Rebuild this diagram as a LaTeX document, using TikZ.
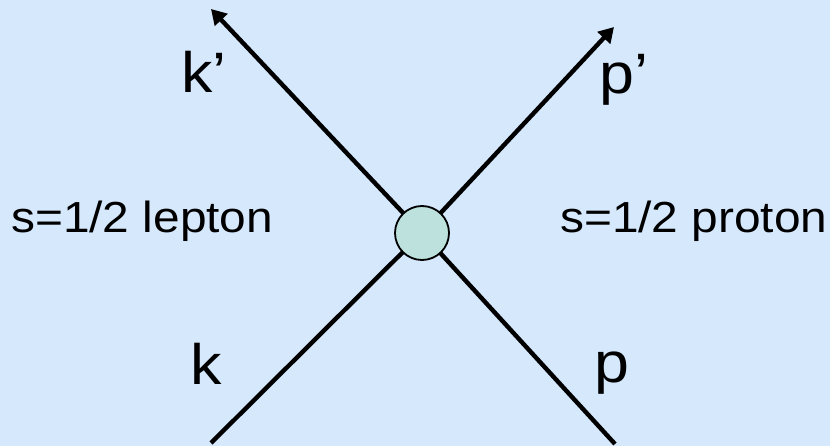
\documentclass[tikz,border=0pt]{standalone}
\usepackage{fontspec}
\setmainfont{Liberation Sans}
\usetikzlibrary{arrows.meta}
\definecolor{bgblue}{RGB}{214,232,252}
\definecolor{blobfill}{RGB}{189,226,222}
\newcommand\stretchtxt[1]{\scalebox{1.1}[1]{#1}}
\tikzset{
  leg/.style={line width=4.4pt, black},
  legarrow/.style={leg, -{Triangle[length=15pt,width=17pt]}},
  blob/.style={circle, draw=black, line width=1.8pt, fill=blobfill, minimum size=54pt, inner sep=0pt},
  biglabel/.style={anchor=base west, inner sep=0pt, font=\fontsize{57}{60}\selectfont},
  sidelabel/.style={anchor=base west, inner sep=0pt, font=\fontsize{43.5}{48}\selectfont},
}
\begin{document}
\begin{tikzpicture}[x=1pt,y=-1pt]
\fill[bgblue] (0,0) rectangle (830,446);
\useasboundingbox (0,0) rectangle (830,446);
\coordinate (c) at (422,233);
\coordinate (kp) at (211,9);
\coordinate (pp) at (614,27);
\coordinate (k) at (211,443);
\coordinate (p) at (615,444);
\draw[legarrow] (c) -- (kp);
\draw[legarrow] (c) -- (pp);
\draw[leg] (k) -- (c);
\draw[leg] (p) -- (c);
\node[blob] (v) at (c) {};
\node[biglabel] (lkp) at (181,93) {\stretchtxt{k’}};
\node[biglabel] (lpp) at (599,94) {\stretchtxt{p’}};
\node[biglabel] (lk) at (190,384) {\stretchtxt{k}};
\node[biglabel] (lp) at (594,382) {\stretchtxt{p}};
\node[sidelabel] (lep) at (11,233) {\stretchtxt{s=1/2 lepton}};
\node[sidelabel] (pro) at (560,233) {\stretchtxt{s=1/2 proton}};
\end{tikzpicture}
\end{document}
